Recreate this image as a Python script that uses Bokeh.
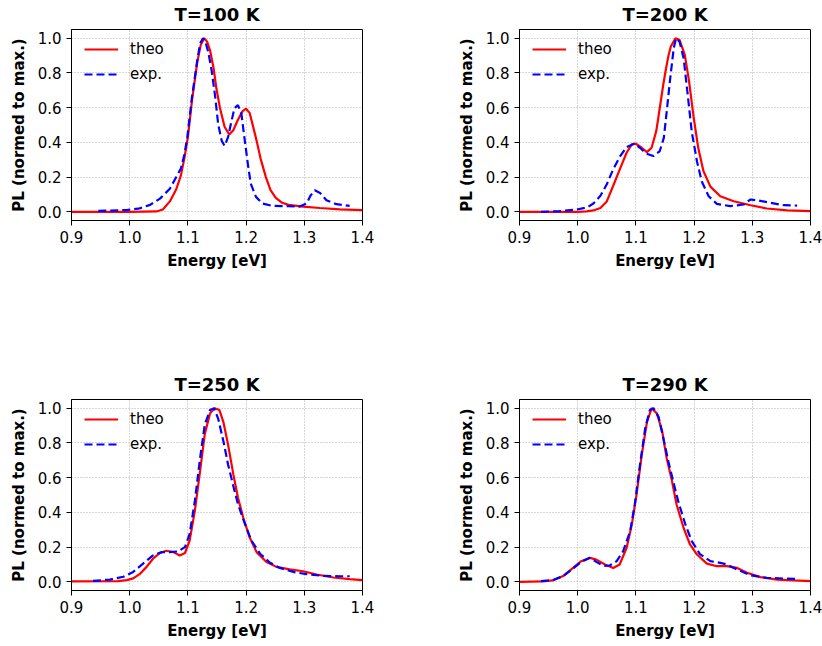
from bokeh.plotting import figure
from bokeh.layouts import gridplot
from bokeh.models import FixedTicker, PrintfTickFormatter, Range1d
from bokeh.embed import file_html
from bokeh.resources import INLINE

# Photoluminescence spectra (normalised), theory vs. experiment at four temperatures

temperatures = [100, 200, 250, 290]
x_ticks = [0.9, 1.0, 1.1, 1.2, 1.3, 1.4]
y_ticks = [0.0, 0.2, 0.4, 0.6, 0.8, 1.0]

# T = 100 K
e_theo_100 = [0.90, 1.00, 1.046, 1.057, 1.069, 1.080, 1.088, 1.094, 1.100, 1.107, 1.116, 1.122,
              1.128, 1.133, 1.138, 1.144, 1.149, 1.155, 1.163, 1.171, 1.178, 1.186, 1.194, 1.200,
              1.206, 1.211, 1.218, 1.225, 1.234, 1.242, 1.251, 1.262, 1.273, 1.298, 1.327, 1.361,
              1.40]
pl_theo_100 = [0.0, 0.0, 0.002, 0.013, 0.06, 0.13, 0.21, 0.31, 0.43, 0.64, 0.86, 0.96,
               1.0, 0.98, 0.93, 0.83, 0.71, 0.60, 0.49, 0.445, 0.47, 0.53, 0.58, 0.594,
               0.57, 0.505, 0.41, 0.305, 0.20, 0.125, 0.08, 0.052, 0.04, 0.03, 0.022, 0.014,
               0.01]
e_exp_100 = [0.946, 0.995, 1.017, 1.035, 1.052, 1.069, 1.080, 1.088, 1.094, 1.099, 1.107, 1.116,
             1.121, 1.126, 1.130, 1.135, 1.141, 1.147, 1.152, 1.158, 1.163, 1.169, 1.175, 1.180,
             1.186, 1.192, 1.197, 1.203, 1.208, 1.217, 1.228, 1.245, 1.273, 1.292, 1.304, 1.311,
             1.318, 1.327, 1.338, 1.355, 1.378]
pl_exp_100 = [0.005, 0.01, 0.02, 0.04, 0.076, 0.133, 0.20, 0.25, 0.33, 0.43, 0.66, 0.87,
              0.97, 1.0, 0.98, 0.92, 0.81, 0.66, 0.505, 0.41, 0.38, 0.43, 0.524, 0.596,
              0.615, 0.562, 0.43, 0.276, 0.162, 0.086, 0.048, 0.034, 0.032, 0.03, 0.048, 0.095,
              0.124, 0.109, 0.067, 0.044, 0.034]

# T = 200 K
e_theo_200 = [0.90, 1.00, 1.015, 1.027, 1.039, 1.050, 1.061, 1.073, 1.084, 1.093, 1.100, 1.110,
              1.119, 1.127, 1.135, 1.141, 1.147, 1.152, 1.156, 1.160, 1.168, 1.175, 1.184, 1.191,
              1.199, 1.207, 1.216, 1.228, 1.245, 1.268, 1.297, 1.325, 1.360, 1.40]
pl_theo_200 = [0.0, 0.0, 0.003, 0.008, 0.022, 0.06, 0.15, 0.25, 0.34, 0.388, 0.392, 0.369,
               0.344, 0.369, 0.465, 0.598, 0.732, 0.83, 0.90, 0.952, 1.0, 0.99, 0.904, 0.76,
               0.55, 0.37, 0.235, 0.145, 0.09, 0.061, 0.038, 0.019, 0.008, 0.004]
e_exp_200 = [0.937, 0.969, 0.998, 1.016, 1.027, 1.039, 1.050, 1.061, 1.073, 1.084, 1.097, 1.107,
             1.118, 1.130, 1.141, 1.148, 1.153, 1.159, 1.165, 1.169, 1.175, 1.182, 1.189, 1.196,
             1.205, 1.213, 1.225, 1.239, 1.262, 1.285, 1.297, 1.311, 1.331, 1.354, 1.377]
pl_exp_200 = [0.0, 0.004, 0.013, 0.025, 0.048, 0.092, 0.159, 0.245, 0.321, 0.373, 0.392, 0.369,
              0.335, 0.321, 0.35, 0.426, 0.58, 0.77, 0.943, 1.0, 0.98, 0.885, 0.675, 0.46,
              0.29, 0.176, 0.09, 0.046, 0.033, 0.042, 0.071, 0.065, 0.052, 0.038, 0.036]

# T = 250 K
e_theo_250 = [0.90, 0.98, 0.995, 1.006, 1.017, 1.029, 1.040, 1.052, 1.063, 1.075, 1.086, 1.095,
              1.103, 1.112, 1.121, 1.129, 1.138, 1.146, 1.154, 1.161, 1.169, 1.178, 1.186, 1.195,
              1.206, 1.218, 1.235, 1.252, 1.275, 1.298, 1.321, 1.350, 1.378, 1.40]
pl_theo_250 = [0.003, 0.004, 0.01, 0.02, 0.044, 0.086, 0.133, 0.166, 0.179, 0.171, 0.152, 0.166,
               0.238, 0.41, 0.64, 0.85, 0.97, 1.0, 0.99, 0.92, 0.79, 0.62, 0.486, 0.37,
               0.257, 0.171, 0.114, 0.086, 0.072, 0.061, 0.042, 0.025, 0.015, 0.01]
e_exp_250 = [0.937, 0.966, 0.989, 1.006, 1.023, 1.040, 1.055, 1.069, 1.083, 1.095, 1.103, 1.112,
             1.121, 1.129, 1.138, 1.145, 1.152, 1.161, 1.169, 1.178, 1.186, 1.198, 1.209, 1.224,
             1.241, 1.258, 1.281, 1.304, 1.332, 1.361, 1.378]
pl_exp_250 = [0.005, 0.013, 0.029, 0.057, 0.105, 0.152, 0.171, 0.171, 0.175, 0.20, 0.276, 0.467,
              0.714, 0.905, 0.99, 1.0, 0.94, 0.81, 0.676, 0.552, 0.448, 0.333, 0.238, 0.162,
              0.11, 0.08, 0.057, 0.044, 0.034, 0.032, 0.032]

# T = 290 K
e_theo_290 = [0.90, 0.94, 0.957, 0.975, 0.992, 1.006, 1.021, 1.032, 1.047, 1.061, 1.072, 1.084,
              1.093, 1.101, 1.110, 1.119, 1.127, 1.136, 1.145, 1.153, 1.162, 1.170, 1.182, 1.193,
              1.205, 1.222, 1.239, 1.256, 1.274, 1.291, 1.314, 1.343, 1.371, 1.40]
pl_theo_290 = [0.0, 0.002, 0.008, 0.033, 0.08, 0.119, 0.138, 0.128, 0.10, 0.08, 0.10, 0.195,
               0.33, 0.50, 0.73, 0.92, 1.0, 0.97, 0.87, 0.71, 0.58, 0.444, 0.31, 0.215,
               0.157, 0.105, 0.09, 0.09, 0.08, 0.052, 0.027, 0.013, 0.008, 0.004]
e_exp_290 = [0.937, 0.957, 0.975, 0.992, 1.006, 1.021, 1.032, 1.044, 1.055, 1.067, 1.078, 1.090,
             1.098, 1.107, 1.116, 1.124, 1.130, 1.139, 1.147, 1.156, 1.164, 1.173, 1.185, 1.196,
             1.210, 1.228, 1.245, 1.256, 1.274, 1.297, 1.325, 1.354, 1.377]
pl_exp_290 = [0.004, 0.01, 0.033, 0.077, 0.115, 0.138, 0.115, 0.092, 0.094, 0.119, 0.176, 0.29,
              0.444, 0.674, 0.885, 0.99, 1.0, 0.95, 0.83, 0.69, 0.58, 0.46, 0.33, 0.234,
              0.16, 0.119, 0.109, 0.10, 0.071, 0.038, 0.023, 0.019, 0.017]

theo_e = [e_theo_100, e_theo_200, e_theo_250, e_theo_290]
theo_pl = [pl_theo_100, pl_theo_200, pl_theo_250, pl_theo_290]
exp_e = [e_exp_100, e_exp_200, e_exp_250, e_exp_290]
exp_pl = [pl_exp_100, pl_exp_200, pl_exp_250, pl_exp_290]

FONT = "DejaVu Sans"

# borders (left, right, top, bottom) so each panel sits in its grid cell;
# the top row keeps 5 px of extra headroom that the page offset below removes
borders = [(71, 49, 34, 103), (108, 12, 34, 103), (71, 49, 76, 56), (108, 12, 76, 56)]


def make_panel(i):
    bl, br, bt, bb = borders[i]
    p = figure(frame_width=291, frame_height=191,
               min_border_left=bl, min_border_right=br,
               min_border_top=bt, min_border_bottom=bb,
               x_range=Range1d(0.9, 1.4), y_range=Range1d(-0.05, 1.05),
               title=f"T={temperatures[i]} K",
               output_backend="svg", toolbar_location=None)
    p.background_fill_color = "white"
    p.border_fill_color = "white"
    p.outline_line_color = "black"
    p.outline_line_width = 1

    p.title.align = "center"
    p.title.text_font = FONT
    p.title.text_font_size = "18px"
    p.title.text_font_style = "bold"
    p.title.text_color = "black"
    p.title.standoff = 10

    p.line(theo_e[i], theo_pl[i], line_color="#ff0000", line_width=2.2, legend_label="theo")
    p.line(exp_e[i], exp_pl[i], line_color="#0000ff", line_width=2.2, line_dash="8 4",
           legend_label="exp.")

    p.xaxis.ticker = FixedTicker(ticks=x_ticks)
    p.yaxis.ticker = FixedTicker(ticks=y_ticks)
    p.xaxis.formatter = PrintfTickFormatter(format="%.1f")
    p.yaxis.formatter = PrintfTickFormatter(format="%.1f")
    p.xaxis.axis_label = "Energy [eV]"
    p.yaxis.axis_label = "PL (normed to max.)"
    for ax in (p.xaxis, p.yaxis):
        ax.axis_label_text_font = FONT
        ax.axis_label_text_font_size = "15px"
        ax.axis_label_text_font_style = "bold"
        ax.axis_label_text_color = "black"
        ax.major_label_text_font = FONT
        ax.major_label_text_font_size = "15px"
        ax.major_label_text_color = "black"
        ax.major_tick_out = 5
        ax.major_tick_in = 0
        ax.major_tick_line_color = "black"
        ax.minor_tick_line_color = None
        ax.axis_line_color = "black"
        ax.major_label_standoff = 5
    p.xaxis.axis_label_standoff = 6
    p.yaxis.axis_label_standoff = 7

    for g in (p.xgrid, p.ygrid):
        g.grid_line_color = "#b0b0b0"
        g.grid_line_dash = "1 2"
        g.grid_line_width = 1

    lg = p.legend[0]
    lg.location = (13, 136)
    lg.background_fill_alpha = 0
    lg.border_line_alpha = 0
    lg.margin = 0
    lg.padding = 0
    lg.spacing = 5
    lg.glyph_width = 34
    lg.glyph_height = 20
    lg.label_height = 20
    lg.label_standoff = 12
    lg.label_text_font = FONT
    lg.label_text_font_size = "15px"
    lg.label_text_color = "black"
    return p


panels = [make_panel(i) for i in range(4)]
grid = gridplot([[panels[0], panels[1]], [panels[2], panels[3]]], toolbar_location=None)
grid.styles = {"margin-top": "-5px"}

with open("out.html", "w") as fh:
    fh.write(file_html(grid, INLINE))
